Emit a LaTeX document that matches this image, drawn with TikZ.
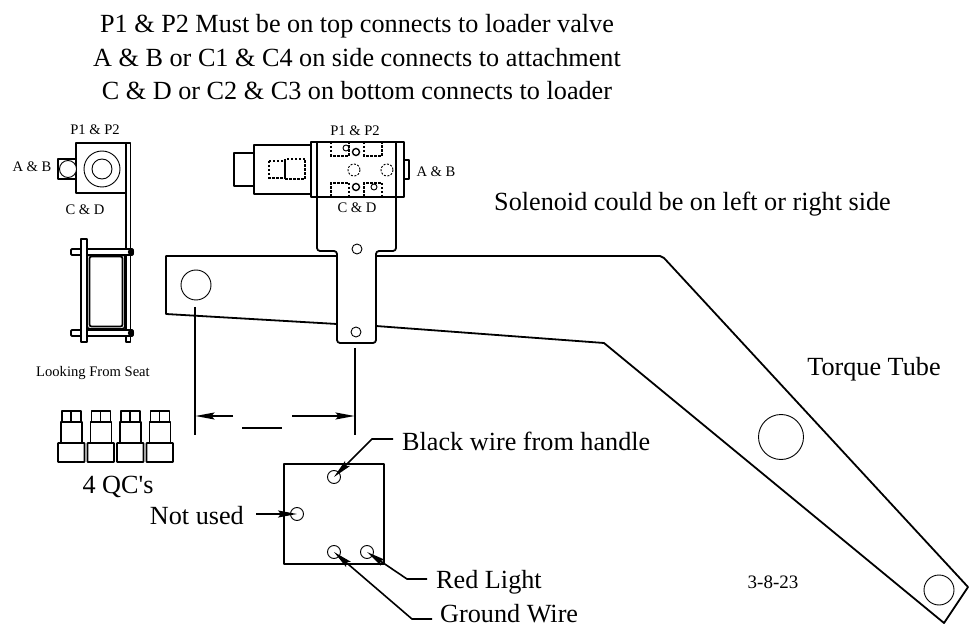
\documentclass[tikz,border=0pt]{standalone}
\usepackage{fontspec}
\setmainfont[Ligatures=TeXOff]{Liberation Serif}
\usetikzlibrary{arrows.meta}
\tikzset{
  thick line/.style={line width=1.8pt,line join=round},
  thin line/.style={line width=0.9pt},
  dash line/.style={line width=1.4pt,dash pattern=on 2.5pt off 1.5pt},
  leader/.style={line width=1.6pt,-{Stealth[length=19pt,width=7pt,inset=3pt]}},
  big text/.style={inner sep=0pt,anchor=base,font=\fontsize{26.2}{26.2}\selectfont},
  mid text/.style={inner sep=0pt,anchor=base,font=\fontsize{19}{19}\selectfont},
  tiny text/.style={inner sep=0pt,anchor=base,font=\fontsize{14.6}{14.6}\selectfont},
  hole/.style={draw,circle,thin line,minimum size=13pt,inner sep=0pt}
}
\begin{document}
\begin{tikzpicture}[x=1pt,y=-1pt]
  \useasboundingbox (0,0) rectangle (975,628);
  % heading
  \node[big text] (headone) at (357,33) {P1 \& P2 Must be on top connects to loader valve};
  \node[big text] (headtwo) at (357,67) {A \& B or C1 \& C4 on side connects to attachment};
  \node[big text] (headthree) at (357,100) {C \& D or C2 \& C3 on bottom connects to loader};
  % view from seat
  \draw[thick line] (76,143) rectangle (126,193);
  \draw[thick line] (126,143) rectangle (130.5,342);
  \draw[thick line] (76,159) -- (58,159) -- (58,179) -- (76,179);
  \draw[thin line,fill=white] (68,169) circle (8.5);
  \draw[thin line,fill=white] (102,169) circle (18);
  \draw[thin line] (102,169) circle (10);
  \draw[thick line,rounded corners=3pt,fill=white] (87,254) rectangle (125,329);
  \draw[thick line,rounded corners=2pt] (89.5,256.5) rectangle (122.5,326.5);
  \draw[thick line,fill=white,rounded corners=1pt] (71,249) rectangle (133,255);
  \draw[thick line,fill=white,rounded corners=1pt] (71,330) rectangle (133,336);
  \draw[thick line,fill=white] (81,239) rectangle (87,342);
  \draw[thick line] (126,249) -- (130.5,249) (126,255) -- (130.5,255) (126,330) -- (130.5,330) (126,336) -- (130.5,336);
  \fill (131,252) circle (3.2) (131,333) circle (3.2);
  \node[tiny text] (pview) at (95,135) {P1 \& P2};
  \node[tiny text] (aview) at (32,172) {A \& B};
  \node[tiny text] (cview) at (85,215) {C \& D};
  \node[tiny text] (seat) at (93,377) {Looking From Seat};
  % torque tube
  \draw[thick line] (337,256) -- (166,256) -- (166,314) -- (337,324);
  \draw[thick line] (376,256) -- (660,256) -- (664,258) -- (968,587) -- (944,623) -- (604,343) -- (376,326);
  \draw[thin line] (196,285) circle (15);
  \draw[thin line] (781,437) circle (22.5);
  \draw[thin line] (939,590) circle (15);
  \node[big text] (tube) at (874,376) {Torque Tube};
  \node[big text,anchor=base west] (sole) at (494,211) {Solenoid could be on left or right side};
  \node[mid text] (date) at (773,588) {3-8-23};
  % valve and plate
  \draw[thick line] (234,153) rectangle (254,186);
  \draw[thick line] (254,145) rectangle (311,194);
  \draw[thick line] (311,142) rectangle (404,197);
  \draw[thick line] (317,142) -- (317,197) (396,142) -- (396,197);
  \draw[thick line] (404,160) rectangle (409,179);
  \draw[thick line,rounded corners=3pt] (317,197) -- (317,251) -- (337,251) -- (337,343) -- (376,343) -- (376,251) -- (396,251) -- (396,197);
  \draw[dash line] (269,161) rectangle (285,178);
  \draw[dash line] (285,159) rectangle (305,179);
  \draw[dash line] (331,142) -- (331,156) -- (349,156) -- (349,142);
  \draw[dash line] (364,142) -- (364,156) -- (382,156) -- (382,142);
  \draw[dash line] (331,197) -- (331,183) -- (349,183) -- (349,197);
  \draw[dash line] (364,197) -- (364,183) -- (382,183) -- (382,197);
  \draw[line width=1.4pt] (356,152) circle (3.5) (356,187) circle (3.5);
  \draw[thin line] (346,148) circle (3) (374,187) circle (3);
  \draw[thin line,dash pattern=on 2pt off 1.5pt] (354,170) circle (6) (387,170) circle (6);
  \draw[thin line] (357,249) circle (5) (356,332) circle (5);
  \node[tiny text] (ptop) at (355,136) {P1 \& P2};
  \node[tiny text] (aside) at (436,177) {A \& B};
  \node[tiny text] (cbot) at (357,213) {C \& D};
  % dimension
  \coordinate (extleft) at (195,307);
  \coordinate (extright) at (355,348);
  \draw[thick line] (extleft) -- (195,435);
  \draw[thick line] (extright) -- (355,435);
  \coordinate (dimleft) at (233,416);
  \coordinate (dimright) at (292,416);
  \draw[leader] (dimleft) -- (195.5,416);
  \draw[leader] (dimright) -- (354.5,416);
  \draw[thick line] (242,428) -- (282,428);
  % quick couplers
  \foreach \i in {0,1,2,3} {
    \begin{scope}[xshift=29.5*\i]
      \draw[thick line,rounded corners=0.5pt] (58,443) rectangle (84.5,462);
      \draw[thick line] (61,422) rectangle (82,443);
      \draw[thick line] (62,411) rectangle (81,422);
      \draw[thick line] (71,411) -- (71,422);
    \end{scope}
  }
  \node[big text] (qc) at (118,493) {4 QC's};
  % switch plate
  \draw[thick line] (284,464) rectangle (384,564);
  \node[hole] (holeblack) at (334,477) {};
  \node[hole] (holenot) at (297,514) {};
  \node[hole] (holeground) at (334,552) {};
  \node[hole] (holered) at (367,552) {};
  \node[big text,anchor=base west] (blacktext) at (402,450) {Black wire from handle};
  \node[big text,anchor=base east] (nottext) at (244,524) {Not used};
  \node[big text,anchor=base west] (redtext) at (436,588) {Red Light};
  \node[big text,anchor=base west] (groundtext) at (440,622) {Ground Wire};
  \coordinate (startblack) at (393,439);
  \coordinate (bendblack) at (372,439);
  \coordinate (startnot) at (256,514);
  \coordinate (startred) at (427,579);
  \coordinate (bendred) at (407,579);
  \coordinate (startground) at (432,619);
  \coordinate (bendground) at (412,619);
  \draw[leader] (startblack) -- (bendblack) -- (holeblack.center);
  \draw[leader] (startnot) -- (holenot.center);
  \draw[leader] (startred) -- (bendred) -- (holered.center);
  \draw[leader] (startground) -- (bendground) -- (holeground.center);
\end{tikzpicture}
\end{document}
